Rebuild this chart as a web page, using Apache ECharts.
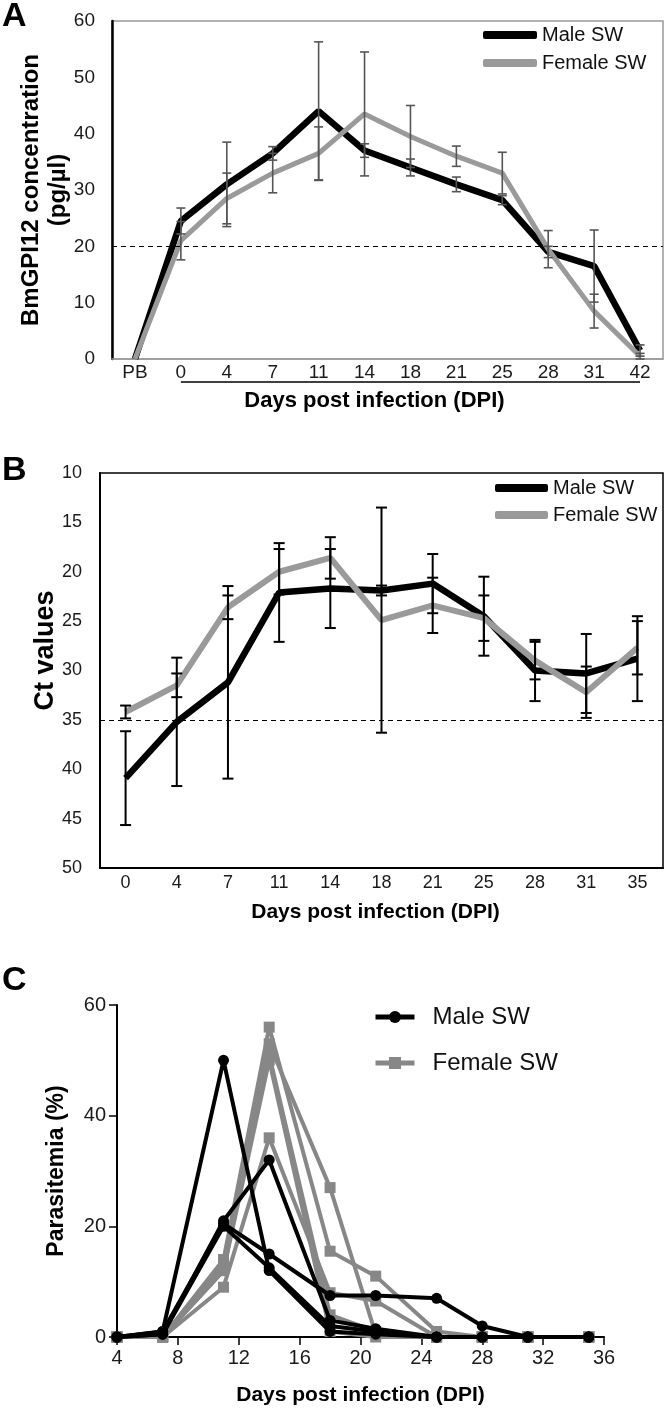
<!DOCTYPE html>
<html><head><meta charset="utf-8">
<script src="https://cdn.jsdelivr.net/npm/echarts@6/dist/echarts.min.js"></script>
<style>html,body{margin:0;padding:0;background:#fff}#c{width:666px;height:1409px}</style>
</head><body><div id="c"></div>
<script>
// ---------- Panel A: BmGPI12 concentration ----------
const catsA = ['PB','0','4','7','11','14','18','21','25','28','31','42'];
const maleA      = [0, 24.5, 31, 36.5, 44, 37, 34, 31, 28.2, 19, 16.5, 1.5];
const maleErrA   = [0, 2.3, 7.5, 1.2, 12.3, 1.2, 1.5, 1.3, 0.8, 1.0, 6.4, 1.0];
const femaleA    = [0, 21, 28.5, 33, 36.5, 43.5, 39.5, 36, 33, 19.5, 8.5, 0.5];
const femaleErrA = [0, 3.4, 4.5, 3.5, 4.7, 11, 5.5, 1.8, 3.7, 3.3, 3, 0.5];
const cutoffA = 20;

// ---------- Panel B: Ct values ----------
const catsB = ['0','4','7','11','14','18','21','25','28','31','35'];
const maleB      = [40.9, 35.2, 31.2, 22.1, 21.7, 21.9, 21.2, 24.5, 30, 30.3, 28.8];
const maleErrB   = [4.75, 6.5, 9.75, 5, 4, 0.5, 3, 4, 3.1, 4, 4.3];
const femaleB    = [34.2, 31.5, 23.6, 20, 18.6, 24.9, 23.4, 24.7, 29, 32.2, 27.7];
const femaleErrB = [0.65, 1.2, 1.2, 2.3, 2.1, 11.4, 2.8, 2.3, 1.9, 2.6, 2.7];
const cutoffB = 35;

// ---------- Panel C: Parasitemia ----------
const daysC = [4, 7, 11, 14, 18, 21, 25, 28, 31, 35];
const maleC1 = [0, 1, 50, 12, 1, 0.5, 0, 0, 0, 0];
const maleC2 = [0, 0.5, 21, 32, 3, 1.5, 0, 0, 0, 0];
const maleC3 = [0, 1, 20.5, 15, 7.5, 7.5, 7, 2, 0, 0];
const maleC4 = [0, 0.5, 20, 12.5, 2, 1, 0, 0, 0, 0];
const femaleC1 = [0, 0, 14, 56, 15.5, 11, 1, 0, 0, 0];
const femaleC2 = [0, 0, 12, 53, 27, 0.5, 0, 0, 0, 0];
const femaleC3 = [0, 0, 9, 36, 8, 6.5, 0, 0, 0, 0];
const femaleC4 = [0, 0, 13, 51, 4, 1, 0, 0, 0, 0];
const femaleC5 = [0, 0, 12, 50, 1, 0, 0, 0, 0, 0];

const FONT = "'Liberation Sans', Arial, Helvetica, sans-serif";
const BLACK = '#000';
const GREY_AB = '#9a9a9a';
const GREY_C = '#878787';

function errData(vals, errs) {
  return vals.map((v, i) => [i, v - errs[i], v + errs[i]]);
}
function errRender(capW, color, width) {
  return function (params, api) {
    const x = api.value(0), lo = api.value(1), hi = api.value(2);
    if (hi - lo < 1e-9) return null;
    const p1 = api.coord([x, hi]), p2 = api.coord([x, lo]);
    const h = capW / 2;
    const st = { stroke: color, lineWidth: width, fill: null };
    return { type: 'group', children: [
      { type: 'line', shape: { x1: p1[0], y1: p1[1], x2: p2[0], y2: p2[1] }, style: st },
      { type: 'line', shape: { x1: p1[0] - h, y1: p1[1], x2: p1[0] + h, y2: p1[1] }, style: st },
      { type: 'line', shape: { x1: p2[0] - h, y1: p2[1], x2: p2[0] + h, y2: p2[1] }, style: st }
    ]};
  };
}
function cSeries(name, vals, color, symbol) {
  return {
    type: 'line', name: name, xAxisIndex: 2, yAxisIndex: 2,
    data: daysC.map((d, i) => [d, vals[i]]),
    color: color, symbol: symbol, symbolSize: 11, showSymbol: true,
    lineStyle: { color: color, width: 4 }, itemStyle: { color: color },
    z: symbol === 'circle' ? 4 : 3
  };
}

const chart = echarts.init(document.getElementById('c'), null, { renderer: 'canvas' });
const option = {
  animation: false,
  backgroundColor: '#fff',
  textStyle: { fontFamily: FONT },
  grid: [
    { left: 112, top: 21, width: 551, height: 338, show: true, borderColor: '#999', borderWidth: 1.5, backgroundColor: 'transparent' },
    { left: 100, top: 473, width: 563, height: 395, show: true, borderColor: '#000', borderWidth: 1.5, backgroundColor: 'transparent' },
    { left: 117, top: 1005, width: 487, height: 332 }
  ],
  xAxis: [
    { gridIndex: 0, type: 'category', data: catsA, boundaryGap: true,
      axisLine: { show: true, lineStyle: { color: '#999', width: 1.5 } }, axisTick: { show: false },
      axisLabel: { interval: 0, fontSize: 19, color: '#1a1a1a', margin: 4, fontFamily: FONT },
      name: 'Days post infection (DPI)', nameLocation: 'middle', nameGap: 31,
      nameTextStyle: { fontSize: 22, fontWeight: 'bold', color: '#000', fontFamily: FONT, padding: [0, 26, 0, 0] } },
    { gridIndex: 1, type: 'category', data: catsB, boundaryGap: true,
      axisLine: { show: true, lineStyle: { color: '#000', width: 2 } }, axisTick: { show: false },
      axisLabel: { interval: 0, fontSize: 18, color: '#1a1a1a', margin: 6, fontFamily: FONT },
      name: 'Days post infection (DPI)', nameLocation: 'middle', nameGap: 34,
      nameTextStyle: { fontSize: 21, fontWeight: 'bold', color: '#000', fontFamily: FONT, padding: [0, 12, 0, 0] } },
    { gridIndex: 2, type: 'value', min: 4, max: 36, interval: 4,
      axisLine: { show: true, onZero: false, lineStyle: { color: '#000', width: 2 } },
      axisTick: { show: true, length: 8, inside: false, lineStyle: { color: '#000', width: 1.5 } },
      splitLine: { show: false },
      axisLabel: { fontSize: 20, color: '#1a1a1a', margin: 11, fontFamily: FONT },
      name: 'Days post infection (DPI)', nameLocation: 'middle', nameGap: 48,
      nameTextStyle: { fontSize: 21, fontWeight: 'bold', color: '#000', fontFamily: FONT } }
  ],
  yAxis: [
    { gridIndex: 0, type: 'value', min: 0, max: 60, interval: 10,
      axisLine: { show: true, lineStyle: { color: '#000', width: 2.5 } }, axisTick: { show: false },
      splitLine: { show: false },
      axisLabel: { fontSize: 19, color: '#1a1a1a', margin: 17, fontFamily: FONT },
      name: 'BmGPI12 concentration\n(pg/µl)', nameLocation: 'middle', nameGap: 40, nameRotate: 90,
      nameMoveOverlap: false,
      nameTextStyle: { fontSize: 24, fontWeight: 'bold', color: '#000', lineHeight: 27, fontFamily: FONT } },
    { gridIndex: 1, type: 'value', min: 10, max: 50, interval: 5, inverse: true,
      axisLine: { show: true, lineStyle: { color: '#000', width: 2 } }, axisTick: { show: false },
      splitLine: { show: false },
      axisLabel: { fontSize: 18, color: '#1a1a1a', margin: 18, fontFamily: FONT },
      name: 'Ct values', nameLocation: 'middle', nameGap: 41, nameRotate: 90,
      nameMoveOverlap: false,
      nameTextStyle: { fontSize: 27, fontWeight: 'bold', color: '#000', fontFamily: FONT, padding: [0, 0, 0, 40] } },
    { gridIndex: 2, type: 'value', min: 0, max: 60, interval: 20,
      axisLine: { show: true, onZero: false, lineStyle: { color: '#000', width: 2 } },
      axisTick: { show: true, length: 8, inside: false, lineStyle: { color: '#000', width: 1.5 } },
      splitLine: { show: false },
      axisLabel: { fontSize: 20, color: '#1a1a1a', margin: 11, fontFamily: FONT },
      name: 'Parasitemia (%)', nameLocation: 'middle', nameGap: 49, nameRotate: 90,
      nameTextStyle: { fontSize: 23, fontWeight: 'bold', color: '#000', fontFamily: FONT } }
  ],
  legend: [
    { data: ['Male SW', 'Female SW'], orient: 'vertical', left: 483, top: 25, padding: 0,
      itemGap: 8, itemWidth: 54, itemHeight: 8, icon: 'roundRect', selectedMode: false,
      textStyle: { fontSize: 20, lineHeight: 20, color: '#111', fontFamily: FONT } },
    { data: ['Male SW', 'Female SW'], orient: 'vertical', left: 495, top: 478, padding: 0,
      itemGap: 7, itemWidth: 53, itemHeight: 8, icon: 'roundRect', selectedMode: false,
      textStyle: { fontSize: 20, lineHeight: 20, color: '#111', fontFamily: FONT } },
    { data: ['Male SW (C)', 'Female SW (C)'], orient: 'vertical', left: 373, top: 1005, padding: 0,
      itemGap: 22, itemWidth: 39, itemHeight: 15, selectedMode: false,
      lineStyle: { width: 5 },
      formatter: n => n.replace(' (C)', ''),
      textStyle: { fontSize: 24, lineHeight: 24, color: '#111', fontFamily: FONT, padding: [0, 0, 0, 13] } }
  ],
  series: [
    // Panel A
    { type: 'custom', xAxisIndex: 0, yAxisIndex: 0, data: errData(maleA, maleErrA),
      encode: { x: 0, y: [1, 2] }, renderItem: errRender(9, '#555', 1.6), z: 5 },
    { type: 'custom', xAxisIndex: 0, yAxisIndex: 0, data: errData(femaleA, femaleErrA),
      encode: { x: 0, y: [1, 2] }, renderItem: errRender(9, '#555', 1.6), z: 5 },
    { type: 'line', name: 'Male SW', xAxisIndex: 0, yAxisIndex: 0, data: maleA, color: BLACK,
      showSymbol: false, symbol: 'none', lineStyle: { color: BLACK, width: 6.5 }, z: 3,
      markLine: { silent: true, symbol: 'none', label: { show: false },
        lineStyle: { color: '#000', type: [5, 4], width: 1.2 }, data: [{ yAxis: cutoffA }] } },
    { type: 'line', name: 'Female SW', xAxisIndex: 0, yAxisIndex: 0, data: femaleA, color: GREY_AB,
      showSymbol: false, symbol: 'none', lineStyle: { color: GREY_AB, width: 5 }, z: 4 },
    // Panel B
    { type: 'custom', xAxisIndex: 1, yAxisIndex: 1, data: errData(maleB, maleErrB),
      encode: { x: 0, y: [1, 2] }, renderItem: errRender(11, '#000', 2), z: 5 },
    { type: 'custom', xAxisIndex: 1, yAxisIndex: 1, data: errData(femaleB, femaleErrB),
      encode: { x: 0, y: [1, 2] }, renderItem: errRender(11, '#000', 2), z: 5 },
    { type: 'line', name: 'Male SW', xAxisIndex: 1, yAxisIndex: 1, data: maleB, color: BLACK,
      showSymbol: false, symbol: 'none', lineStyle: { color: BLACK, width: 6.5 }, z: 3,
      markLine: { silent: true, symbol: 'none', label: { show: false },
        lineStyle: { color: '#000', type: [5, 4], width: 1.2 }, data: [{ yAxis: cutoffB }] } },
    { type: 'line', name: 'Female SW', xAxisIndex: 1, yAxisIndex: 1, data: femaleB, color: GREY_AB,
      showSymbol: false, symbol: 'none', lineStyle: { color: GREY_AB, width: 6 }, z: 4 },
    // Panel C (female first so male lines lie on top)
    cSeries('Female SW (C)', femaleC1, GREY_C, 'rect'),
    cSeries('Female SW (C)', femaleC2, GREY_C, 'rect'),
    cSeries('Female SW (C)', femaleC3, GREY_C, 'rect'),
    cSeries('Female SW (C)', femaleC4, GREY_C, 'rect'),
    cSeries('Female SW (C)', femaleC5, GREY_C, 'rect'),
    cSeries('Male SW (C)', maleC1, BLACK, 'circle'),
    cSeries('Male SW (C)', maleC2, BLACK, 'circle'),
    cSeries('Male SW (C)', maleC3, BLACK, 'circle'),
    cSeries('Male SW (C)', maleC4, BLACK, 'circle')
  ]
};
chart.setOption(option);

// decorations: panel letters and the bracket line under the DPI labels of panel A
const xStart = chart.convertToPixel({ xAxisIndex: 0 }, catsA.indexOf('0'));
const xEnd = chart.convertToPixel({ xAxisIndex: 0 }, catsA.indexOf('42'));
const yBase = chart.convertToPixel({ yAxisIndex: 0 }, 0);
chart.setOption({
  graphic: [
    { type: 'text', left: 2, top: 0, style: { text: 'A', font: "bold 34px 'Liberation Sans', Arial, sans-serif", fill: '#000' } },
    { type: 'text', left: 2, top: 454, style: { text: 'B', font: "bold 34px 'Liberation Sans', Arial, sans-serif", fill: '#000' } },
    { type: 'text', left: 2, top: 964, style: { text: 'C', font: "bold 34px 'Liberation Sans', Arial, sans-serif", fill: '#000' } },
    { type: 'line', shape: { x1: xStart, y1: yBase + 23, x2: xEnd, y2: yBase + 23 }, style: { stroke: '#000', lineWidth: 1.5 } }
  ]
});
</script>
</body></html>
